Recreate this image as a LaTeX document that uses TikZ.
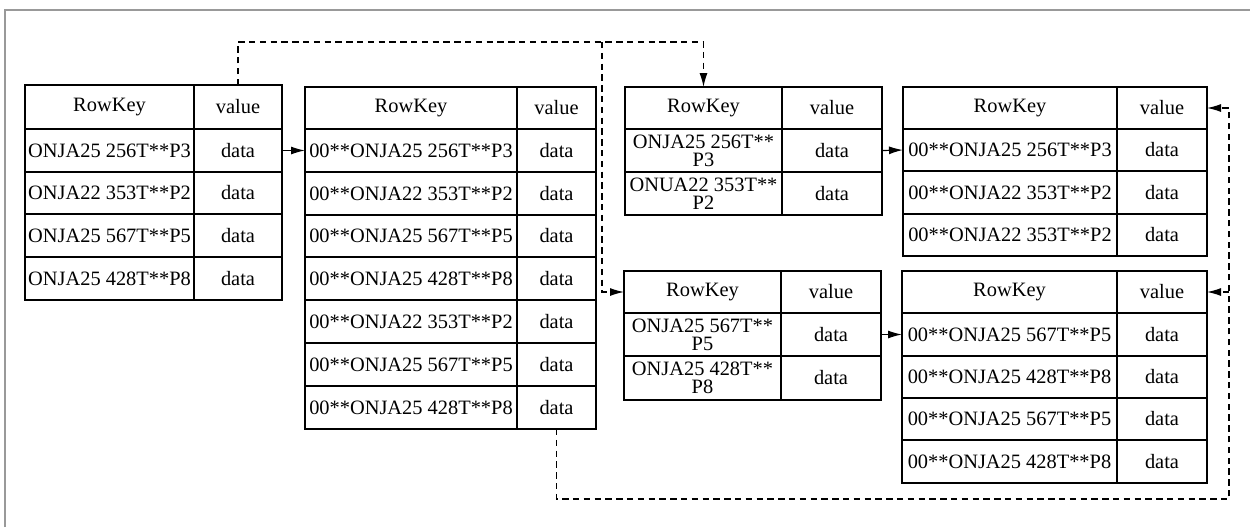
\documentclass[tikz,border=0pt]{standalone}
\usepackage{fontspec}
\setmainfont{Liberation Serif}
\usetikzlibrary{arrows.meta}
\newcommand\mycell[6]{%
  \pgfmathsetmacro\mycw{(#4-#2)*0.5}%
  \pgfmathsetmacro\mych{(#5-#3)*0.5}%
  \node[cell,minimum width=\mycw pt,minimum height=\mych pt] (#1) at ({(#2+#4)/2},{(#3+#5)/2}) {#6};}
\begin{document}
\begin{tikzpicture}[x=0.5pt,y=-0.5pt,
  cell/.style={draw,line width=0.7pt,inner sep=0pt,outer sep=0pt,align=center,font=\fontsize{10.2}{9}\selectfont},
  dline/.style={line width=0.6pt,dash pattern=on 3.2pt off 2.2pt},
  sline/.style={line width=0.6pt},
  tip/.style={-{Latex[length=7pt,width=4pt]}},
  frameline/.style={line width=1pt,draw=black!40}]
\useasboundingbox (0,0) rectangle (1250,527);
\draw[frameline] (5,527) -- (5,10) -- (1250,10);

% Table 1
\mycell{t1h}{25}{85}{194}{129}{RowKey}
\mycell{t1v}{194}{85}{282}{129}{value}
\mycell{t1r1}{25}{129}{194}{172}{ONJA25 256T**P3}
\mycell{t1d1}{194}{129}{282}{172}{data}
\mycell{t1r2}{25}{172}{194}{214}{ONJA22 353T**P2}
\mycell{t1d2}{194}{172}{282}{214}{data}
\mycell{t1r3}{25}{214}{194}{257}{ONJA25 567T**P5}
\mycell{t1d3}{194}{214}{282}{257}{data}
\mycell{t1r4}{25}{257}{194}{300}{ONJA25 428T**P8}
\mycell{t1d4}{194}{257}{282}{300}{data}

% Table 2
\mycell{t2h}{305}{87}{517}{129}{RowKey}
\mycell{t2v}{517}{87}{596}{129}{value}
\mycell{t2r1}{305}{129}{517}{172}{00**ONJA25 256T**P3}
\mycell{t2d1}{517}{129}{596}{172}{data}
\mycell{t2r2}{305}{172}{517}{215}{00**ONJA22 353T**P2}
\mycell{t2d2}{517}{172}{596}{215}{data}
\mycell{t2r3}{305}{215}{517}{257}{00**ONJA25 567T**P5}
\mycell{t2d3}{517}{215}{596}{257}{data}
\mycell{t2r4}{305}{257}{517}{300}{00**ONJA25 428T**P8}
\mycell{t2d4}{517}{257}{596}{300}{data}
\mycell{t2r5}{305}{300}{517}{343}{00**ONJA22 353T**P2}
\mycell{t2d5}{517}{300}{596}{343}{data}
\mycell{t2r6}{305}{343}{517}{386}{00**ONJA25 567T**P5}
\mycell{t2d6}{517}{343}{596}{386}{data}
\mycell{t2r7}{305}{386}{517}{429}{00**ONJA25 428T**P8}
\mycell{t2d7}{517}{386}{596}{429}{data}

% Table 3a
\mycell{t3ah}{625}{87}{782}{129}{RowKey}
\mycell{t3av}{782}{87}{882}{129}{value}
\mycell{t3ar1}{625}{129}{782}{172}{ONJA25 256T**\\P3}
\mycell{t3ad1}{782}{129}{882}{172}{data}
\mycell{t3ar2}{625}{172}{782}{215}{ONUA22 353T**\\P2}
\mycell{t3ad2}{782}{172}{882}{215}{data}

% Table 3b
\mycell{t3bh}{624}{271}{781}{313}{RowKey}
\mycell{t3bv}{781}{271}{881}{313}{value}
\mycell{t3br1}{624}{313}{781}{356}{ONJA25 567T**\\P5}
\mycell{t3bd1}{781}{313}{881}{356}{data}
\mycell{t3br2}{624}{356}{781}{400}{ONJA25 428T**\\P8}
\mycell{t3bd2}{781}{356}{881}{400}{data}

% Table 4a
\mycell{t4ah}{903}{87}{1117}{129}{RowKey}
\mycell{t4av}{1117}{87}{1207}{129}{value}
\mycell{t4ar1}{903}{129}{1117}{171}{00**ONJA25 256T**P3}
\mycell{t4ad1}{1117}{129}{1207}{171}{data}
\mycell{t4ar2}{903}{171}{1117}{214}{00**ONJA22 353T**P2}
\mycell{t4ad2}{1117}{171}{1207}{214}{data}
\mycell{t4ar3}{903}{214}{1117}{256}{00**ONJA22 353T**P2}
\mycell{t4ad3}{1117}{214}{1207}{256}{data}

% Table 4b
\mycell{t4bh}{902}{271}{1117}{313}{RowKey}
\mycell{t4bv}{1117}{271}{1207}{313}{value}
\mycell{t4br1}{902}{313}{1117}{356}{00**ONJA25 567T**P5}
\mycell{t4bd1}{1117}{313}{1207}{356}{data}
\mycell{t4br2}{902}{356}{1117}{398}{00**ONJA25 428T**P8}
\mycell{t4bd2}{1117}{356}{1207}{398}{data}
\mycell{t4br3}{902}{398}{1117}{440}{00**ONJA25 567T**P5}
\mycell{t4bd3}{1117}{398}{1207}{440}{data}
\mycell{t4br4}{902}{440}{1117}{483}{00**ONJA25 428T**P8}
\mycell{t4bd4}{1117}{440}{1207}{483}{data}

% solid arrows
\draw[sline,tip] (t1d1.east) -- (t2r1.west);
\draw[sline,tip] (t3ad1.east) -- (t4ar1.west);
\draw[sline,tip] (t3bd1.east) -- (t4br1.west);

% dashed connectors
\coordinate (topy) at (0,42);
\coordinate (br) at (602,42);
\coordinate (boty) at (0,499);
\coordinate (rtx) at (1229,0);
\draw[dline,tip] (t1v.north) |- (t3ah.north |- topy) -- (t3ah.north);
\draw[dline,tip] (br) |- (t3bh.west);
\draw[dline,tip] (t2d7.south) |- (rtx |- boty) |- (t4av.east);
\draw[dline,tip] (rtx |- t4bv.east) -- (t4bv.east);
\end{tikzpicture}
\end{document}
